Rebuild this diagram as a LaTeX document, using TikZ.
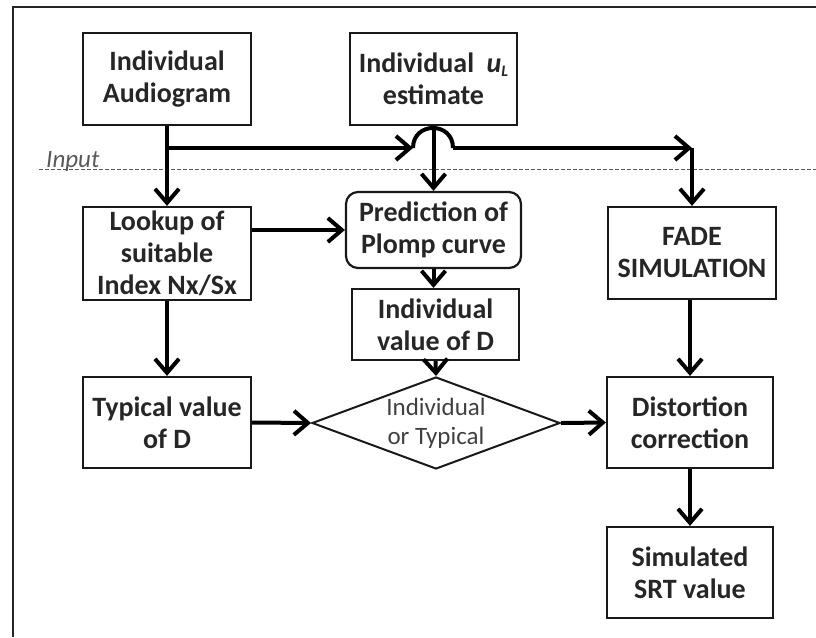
\documentclass[tikz,border=0pt]{standalone}
\usepackage{fontspec}
\setmainfont{Carlito}
\usetikzlibrary{shapes.geometric,arrows.meta}
\begin{document}
\begin{tikzpicture}[x=1pt,y=-1pt,
  box/.style={draw=black!90, line width=2.2pt, rectangle, minimum width=168pt, minimum height=92pt,
    align=center, inner sep=1pt, font=\fontsize{28}{32}\selectfont\bfseries, text=black!85},
  arr/.style={line width=4pt, draw=black, -{Straight Barb[length=14pt,width=24pt]}},
  plain/.style={line width=4pt, draw=black},
]
\useasboundingbox (0,0) rectangle (816,637);
% frame
\draw[line width=2.4pt, black!85] (13,637) -- (13,7) -- (816,7);

% input separator
\draw[gray!70!black, line width=1.3pt, dash pattern=on 3.5pt off 2.5pt] (39,169.5) -- (816,169.5);
\node[anchor=base west, inner sep=0pt, text=black!65, font=\fontsize{25}{28}\selectfont\itshape] (inp) at (46,167) {Input};

% nodes
\node[box] (aud) at (167,79) {Individual\\Audiogram};
\node[box, minimum width=167pt] (ul) at (433.5,79) {Individual\hspace{0.45em}\textit{u}\raisebox{-0.3ex}{\fontsize{16}{16}\selectfont\textit{L}}\\estimate};
\node[box, minimum height=93pt] (look) at (167,253.5) {Lookup of\\suitable\\Index Nx/Sx};
\node[box, rounded corners=12pt, minimum width=175pt, minimum height=76pt] (pred) at (433.5,230) {Prediction of\\Plomp curve};
\node[box, minimum width=167pt, minimum height=71pt] (ival) at (435.5,324.5) {Individual\\value of D};
\node[box, minimum height=91pt] (typ) at (167,422.5) {Typical value\\of D};
\node[draw=black!90, line width=2pt, diamond, aspect=2.7, inner sep=0pt, minimum width=248pt, minimum height=92pt,
  align=center, text=black!75, font=\fontsize{25}{29}\selectfont] (diam) at (436,423) {Individual\\or Typical};
\node[box] (fade) at (692,253) {FADE\\SIMULATION};
\node[box, minimum width=166pt, minimum height=91pt] (dist) at (690,422.5) {Distortion\\correction};
\node[box, minimum width=166pt, minimum height=91pt] (srt) at (690,572.5) {Simulated\\SRT value};

% junction points
\coordinate (j1) at (167,148);
\coordinate (h1) at (413,148);
\coordinate (h2) at (453,148);
\coordinate (j2) at (692,148);

% connectors
\draw[arr] (aud.south) -- (look.north);
\draw[arr] (j1) -- (h1);
\draw[plain] (h1) .. controls (413,121.3) and (453,121.3) .. (h2);
\draw[arr] (h2) -- (j2);
\draw[arr] (j2) -- (fade.north);
\draw[arr] (ul.south) -- (pred.north);
\draw[arr] (look.east |- pred.west) -- (pred.west);
\draw[arr] (pred.south) -- (pred.south |- ival.north);
\draw[arr] (ival.south) -- (diam.north);
\draw[arr] (look.south) -- (typ.north);
\draw[arr] (typ.east) -- (diam.west);
\draw[arr] (diam.east) -- (dist.west);
\draw[arr] (fade.south -| dist.north) -- (dist.north);
\draw[arr] (dist.south) -- (srt.north);
\end{tikzpicture}
\end{document}
